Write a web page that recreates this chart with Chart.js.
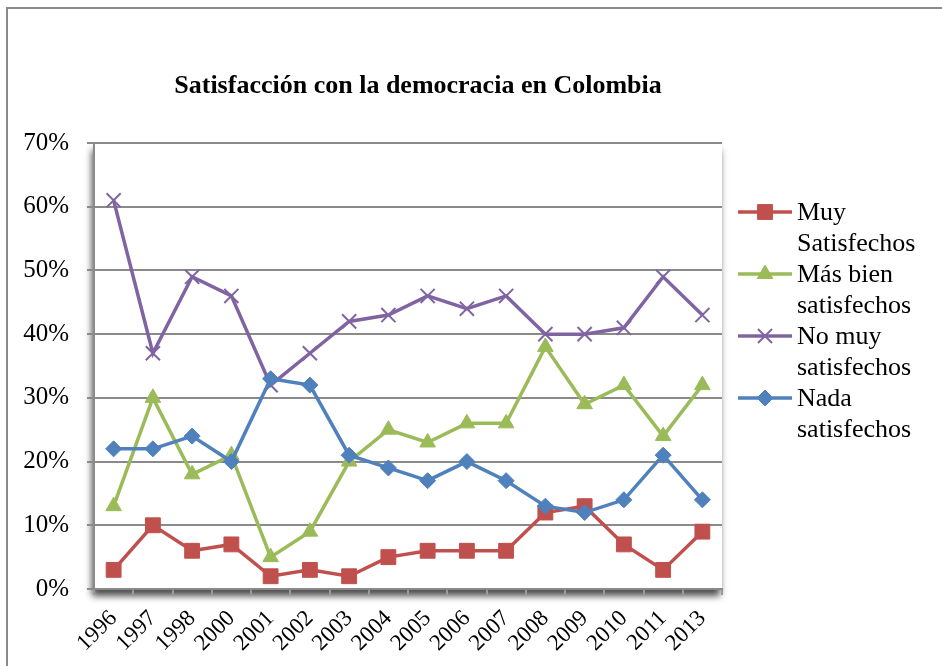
<!DOCTYPE html>
<html>
<head>
<meta charset="utf-8">
<script src="https://cdn.jsdelivr.net/npm/chart.js@4.4.1/dist/chart.umd.min.js"></script>
<style>
    html, body { margin: 0; padding: 0; background: #fff; }
    #wrap { width: 942px; height: 666px; position: relative; }
</style>
</head>
<body>
<div id="wrap"><canvas id="chart" width="942" height="666"></canvas></div>
<script>
const years = ['1996', '1997', '1998', '2000', '2001', '2002', '2003', '2004', '2005', '2006', '2007', '2008', '2009', '2010', '2011', '2013'];
const muySatisfechos = [3, 10, 6, 7, 2, 3, 2, 5, 6, 6, 6, 12, 13, 7, 3, 9];
const masBienSatisfechos = [13, 30, 18, 21, 5, 9, 20, 25, 23, 26, 26, 38, 29, 32, 24, 32];
const noMuySatisfechos = [61, 37, 49, 46, 32, 37, 42, 43, 46, 44, 46, 40, 40, 41, 49, 43];
const nadaSatisfechos = [22, 22, 24, 20, 33, 32, 21, 19, 17, 20, 17, 13, 12, 14, 21, 14];
const yTicks = [0, 10, 20, 30, 40, 50, 60, 70];

const serif = "'Liberation Serif', 'Times New Roman', serif";

function series(label, legendLines, data, color, style, radius, order, bw) {
    return {
        label: label,
        legendLines: legendLines,
        data: data,
        borderColor: color,
        backgroundColor: color,
        borderWidth: 3.5,
        pointStyle: style,
        pointRadius: radius,
        pointHoverRadius: radius,
        pointBorderWidth: bw,
        pointBackgroundColor: color,
        pointBorderColor: color,
        tension: 0,
        order: order
    };
}

// plot area shadow, outer frame and title
const framePlugin = {
    id: 'frame',
    beforeDraw(chart) {
        const ctx = chart.ctx;
        const a = chart.chartArea;
        ctx.save();
        ctx.fillStyle = '#fff';
        ctx.fillRect(0, 0, chart.width, chart.height);
        ctx.strokeStyle = '#8a8a8a';
        ctx.lineWidth = 2;
        ctx.beginPath();
        ctx.moveTo(7, chart.height + 2);
        ctx.lineTo(7, 8);
        ctx.lineTo(chart.width + 2, 8);
        ctx.stroke();
        ctx.shadowColor = 'rgba(0,0,0,0.7)';
        ctx.shadowBlur = 7;
        ctx.shadowOffsetX = -2;
        ctx.shadowOffsetY = 7;
        ctx.fillStyle = '#fff';
        ctx.fillRect(a.left, a.top, a.right - a.left, a.bottom - a.top);
        ctx.restore();

        ctx.save();
        ctx.fillStyle = '#000';
        ctx.font = 'bold 26px ' + serif;
        ctx.textAlign = 'center';
        ctx.textBaseline = 'middle';
        ctx.fillText('Satisfacción con la democracia en Colombia', 418, 86);
        ctx.restore();
    }
};

// two-line legend on the right
const legendPlugin = {
    id: 'sideLegend',
    afterDraw(chart) {
        const ctx = chart.ctx;
        ctx.save();
        chart.data.datasets.forEach((ds, i) => {
            const y = 212 + i * 62;
            ctx.strokeStyle = ds.borderColor;
            ctx.lineWidth = 3.5;
            ctx.beginPath();
            ctx.moveTo(738, y);
            ctx.lineTo(792, y);
            ctx.stroke();
            ctx.fillStyle = ds.borderColor;
            ctx.lineWidth = ds.pointBorderWidth;
            Chart.helpers.drawPoint(ctx, {
                pointStyle: ds.pointStyle,
                radius: ds.pointRadius,
                rotation: 0,
                borderWidth: ds.pointBorderWidth
            }, 765, y);
            ctx.fillStyle = '#000';
            ctx.font = '26px ' + serif;
            ctx.textAlign = 'left';
            ctx.textBaseline = 'middle';
            ctx.fillText(ds.legendLines[0], 797, y + 1);
            ctx.fillText(ds.legendLines[1], 797, y + 32);
        });
        ctx.restore();
    }
};

const ctx = document.getElementById('chart').getContext('2d');

new Chart(ctx, {
    type: 'line',
    data: {
        labels: years,
        datasets: [
            series('Muy Satisfechos', ['Muy', 'Satisfechos'], muySatisfechos, '#C0504D', 'rect', 10.5, 4, 1),
            series('Más bien satisfechos', ['Más bien', 'satisfechos'], masBienSatisfechos, '#9BBB59', 'triangle', 9, 3, 1),
            series('No muy satisfechos', ['No muy', 'satisfechos'], noMuySatisfechos, '#8064A2', 'crossRot', 10, 2, 2),
            series('Nada satisfechos', ['Nada', 'satisfechos'], nadaSatisfechos, '#4F81BD', 'rectRot', 8, 1, 1)
        ]
    },
    options: {
        responsive: false,
        animation: false,
        layout: {
            padding: { top: 143, right: 220, left: 0, bottom: 0 }
        },
        plugins: {
            legend: { display: false },
            title: { display: false },
            tooltip: { enabled: false }
        },
        scales: {
            x: {
                offset: true,
                afterFit(scale) { scale.height = 77; },
                grid: {
                    offset: true,
                    drawOnChartArea: false,
                    drawTicks: true,
                    tickLength: 6,
                    color: '#9a9a9a',
                    lineWidth: 2
                },
                border: { color: '#8a8a8a', width: 2 },
                ticks: {
                    autoSkip: false,
                    maxRotation: 45,
                    minRotation: 45,
                    padding: 10,
                    color: '#000',
                    font: { family: serif, size: 23 }
                }
            },
            y: {
                min: 0,
                max: 70,
                afterFit(scale) { scale.width = 94; },
                afterBuildTicks(scale) {
                    scale.ticks = yTicks.map(v => ({ value: v }));
                },
                grid: {
                    color: '#8a8a8a',
                    lineWidth: 2,
                    tickLength: 7
                },
                border: { color: '#8a8a8a', width: 2 },
                ticks: {
                    padding: 18,
                    color: '#000',
                    font: { family: serif, size: 25 },
                    callback: v => v + '%'
                }
            }
        }
    },
    plugins: [framePlugin, legendPlugin]
});
</script>
</body>
</html>
